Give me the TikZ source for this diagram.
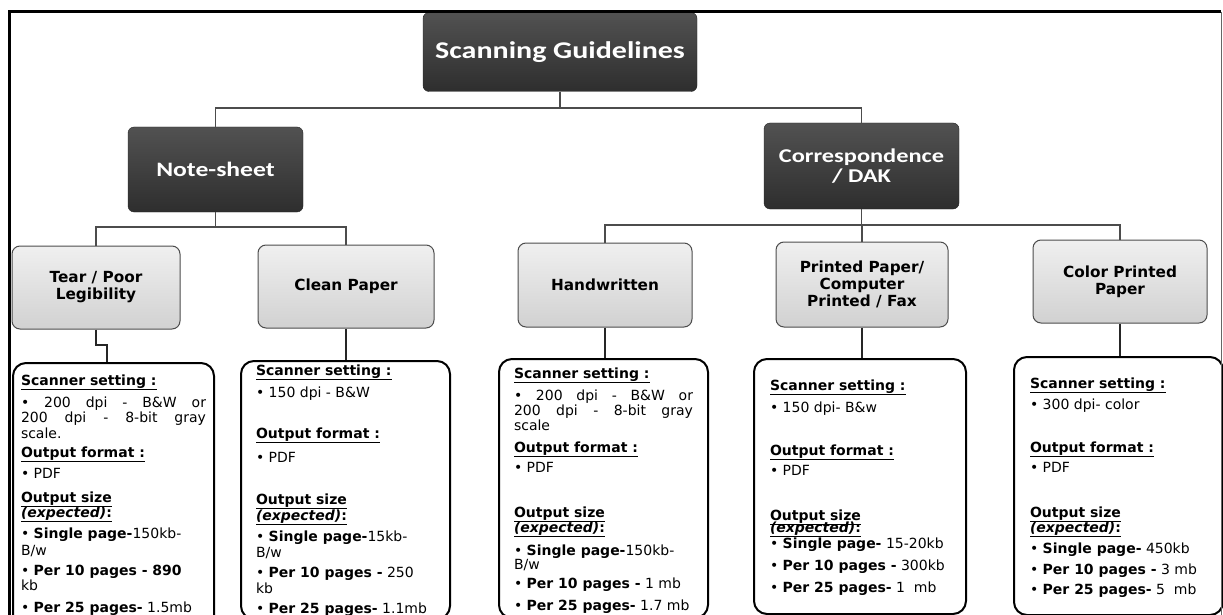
\documentclass[tikz,border=0pt]{standalone}
\usepackage{fontspec}
\setmainfont{DejaVu Sans}
\newfontfamily\headfont[FakeStretch=1.25]{Carlito}

% detail box text: width, height, lines
\newcommand{\dbox}[3]{\begin{minipage}[t][#2][t]{#1}\lineskiplimit=-20pt\relax #3\end{minipage}}
\newcommand{\dhead}[1]{\underline{\textbf{#1}}}
\newcommand{\dexp}{\underline{\textbf{\textit{(expected)}:}}}
\newcommand{\jline}[1]{\makebox[\linewidth][s]{#1}}

\begin{document}
\begin{tikzpicture}[x=1pt,y=-1pt,
  headbox/.style={rounded corners=6pt, draw=black!85, top color=black!68, bottom color=black!82,
    text=white, font=\headfont\bfseries, align=center, inner sep=0pt},
  typebox/.style={rounded corners=8pt, draw=black!70, line width=1pt, top color=black!6, bottom color=black!18,
    text=black, font=\bfseries\fontsize{15.3}{17}\selectfont, align=center, inner sep=0pt},
  detailbox/.style={rounded corners=13pt, draw=black, line width=2pt, fill=white, anchor=north west,
    inner ysep=0pt, text=black, font=\fontsize{14}{15.5}\selectfont},
  tree/.style={draw=black!70, line width=1.2pt},
  stem/.style={draw=black!85, line width=1.6pt},
  frame/.style={draw=black, line width=3pt}]
\useasboundingbox (0,0) rectangle (1223,615);
\clip (0,0) rectangle (1223,615);

% top levels
\node [headbox, minimum width=274pt, minimum height=79pt, font=\headfont\bfseries\fontsize{24}{28}\selectfont] (root) at (560,52) {Scanning Guidelines};
\node [headbox, minimum width=175pt, minimum height=85pt, font=\headfont\bfseries\fontsize{20.5}{20}\selectfont] (note) at (215.5,169.5) {Note-sheet};
\node [headbox, minimum width=195pt, minimum height=86pt, font=\headfont\bfseries\fontsize{19.5}{20}\selectfont] (corr) at (861.5,166) {Correspondence\\/ DAK};

% document types
\node [typebox, minimum width=168pt, minimum height=83pt] (tear) at (96,287.5) {Tear / Poor\\Legibility};
\node [typebox, minimum width=176pt, minimum height=83pt] (clean) at (346,286.5) {Clean Paper};
\node [typebox, minimum width=174pt, minimum height=84pt] (hand) at (605,285) {Handwritten};
\node [typebox, minimum width=172pt, minimum height=85pt] (print) at (862,284.5) {Printed Paper/\\Computer\\Printed / Fax};
\node [typebox, minimum width=174pt, minimum height=83pt] (color) at (1120,281.5) {Color Printed\\Paper};

% settings
\node [detailbox, inner xsep=8pt] (teard) at (12,362) {\dbox{185pt}{268pt}{%
\rule{0pt}{22pt}\dhead{Scanner setting :}\\[6.5pt]
\jline{• 200 dpi - B\&W or}\\[-0.5pt]
\jline{200 dpi - 8-bit gray}\\[0.5pt]
scale.\\[3.5pt]
\dhead{Output format :}\\[5.5pt]
• PDF\\[8.5pt]
\dhead{Output size}\\[-0.5pt]
\dexp\\[5.5pt]
• \textbf{Single page-}150kb-\\[1.5pt]
B/w\\[4.5pt]
• \textbf{Per 10 pages - 890}\\[-0.5pt]
kb\\[6.5pt]
• \textbf{Per 25 pages-} 1.5mb}};
\node [detailbox, inner xsep=15pt] (cleand) at (240,360) {\dbox{179pt}{258pt}{%
\rule{0pt}{14pt}\dhead{Scanner setting :}\\[6.5pt]
• 150 dpi - B\&W\\[25.5pt]
\dhead{Output format :}\\[8.5pt]
• PDF\\[26.5pt]
\dhead{Output size}\\[0.5pt]
\dexp\\[5.5pt]
• \textbf{Single page-}15kb-\\[0.5pt]
B/w\\[4.5pt]
• \textbf{Per 10 pages -} 250\\[0.5pt]
kb\\[4.5pt]
• \textbf{Per 25 pages-} 1.1mb}};
\node [detailbox, inner xsep=15pt] (handd) at (498,358) {\dbox{179pt}{259pt}{%
\rule{0pt}{19pt}\dhead{Scanner setting :}\\[6.5pt]
\jline{• 200 dpi - B\&W or}\\[-0.5pt]
\jline{200 dpi - 8-bit gray}\\[-0.5pt]
scale\\[6.5pt]
\dhead{Output format :}\\[4.5pt]
• PDF\\[29.5pt]
\dhead{Output size}\\[-0.5pt]
\dexp\\[7.5pt]
• \textbf{Single page-}150kb-\\[-1.5pt]
B/w\\[3.5pt]
• \textbf{Per 10 pages -} 1 mb\\[6.5pt]
• \textbf{Per 25 pages-} 1.7 mb}};
\node [detailbox, inner xsep=16pt] (printd) at (753,358) {\dbox{180pt}{255pt}{%
\rule{0pt}{31pt}\dhead{Scanner setting :}\\[6.5pt]
• 150 dpi- B\&w\\[27.5pt]
\dhead{Output format :}\\[4.5pt]
• PDF\\[29.5pt]
\dhead{Output size}\\[-3.5pt]
\dexp\\[0.5pt]
• \textbf{Single page-} 15-20kb\\[6.5pt]
• \textbf{Per 10 pages -} 300kb\\[6.5pt]
• \textbf{Per 25 pages-} 1~~mb}};
\node [detailbox, inner xsep=16pt] (colord) at (1013,356) {\dbox{177pt}{258pt}{%
\rule{0pt}{31pt}\dhead{Scanner setting :}\\[5.5pt]
• 300 dpi- color\\[27.5pt]
\dhead{Output format :}\\[4.5pt]
• PDF\\[29.5pt]
\dhead{Output size}\\[-0.5pt]
\dexp\\[5.5pt]
• \textbf{Single page-} 450kb\\[5.5pt]
• \textbf{Per 10 pages -} 3 mb\\[4.5pt]
• \textbf{Per 25 pages-} 5~~mb}};

% tree
\coordinate (rootfork) at (560,108);
\coordinate (notefork) at (215.5,227);
\coordinate (corrfork) at (861.5,225);
\coordinate (tearkink) at (107,345);
\draw [tree] (root.south) -- (rootfork);
\draw [tree] (rootfork) -| (note.north);
\draw [tree] (rootfork) -| (corr.north);
\draw [tree] (note.south) -- (notefork);
\draw [tree] (notefork) -| (tear.north);
\draw [tree] (notefork) -| (clean.north);
\draw [tree] (corr.south) -- (corrfork);
\draw [tree] (corrfork) -| (hand.north);
\draw [tree] (corrfork) -| (print.north);
\draw [tree] (corrfork) -| (color.north);
\draw [stem] (tear.south) |- (tearkink) -- (tearkink |- teard.north);
\draw [stem] (clean.south) -- (clean.south |- cleand.north);
\draw [stem] (hand.south) -- (hand.south |- handd.north);
\draw [stem] (print.south) -- (print.south |- printd.north);
\draw [stem] (color.south) -- (color.south |- colord.north);

% page frame
\draw [frame] (9,615) -- (9,12) -- (1221,12);
\draw [black!60, line width=1pt] (1221,12) -- (1221,615);
\end{tikzpicture}
\end{document}
